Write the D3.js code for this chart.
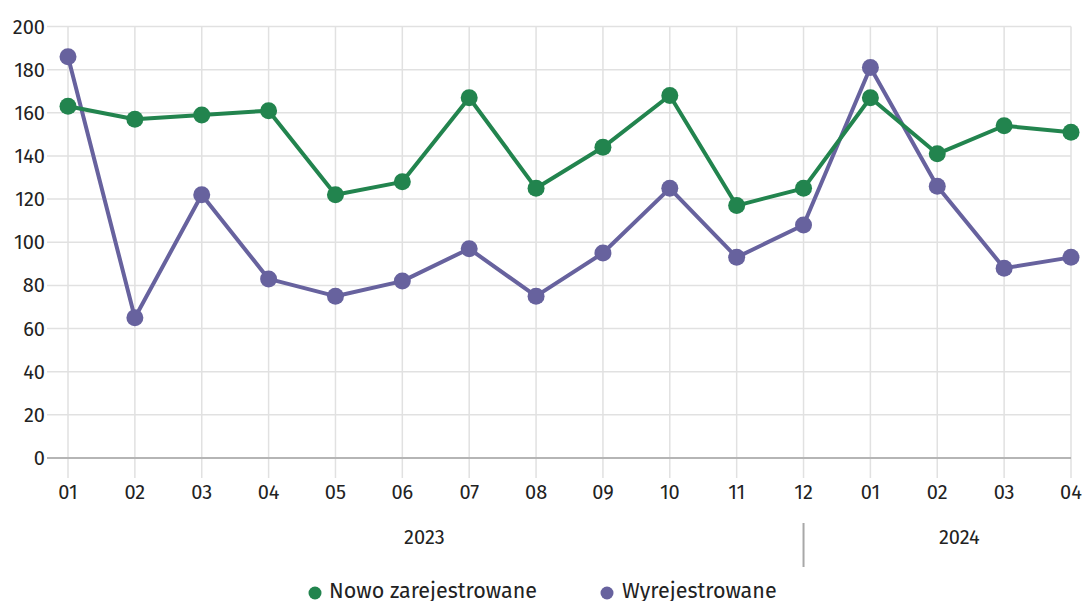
<!DOCTYPE html>
<html><head><meta charset="utf-8">
<script src="https://cdn.jsdelivr.net/npm/d3@7"></script>
<style>body{margin:0;background:#fff}svg{display:block;font-family:"Fira Sans","Noto Sans",sans-serif}</style>
</head><body><svg id="c" width="1082" height="601"></svg>
<script>
const months = ["01","02","03","04","05","06","07","08","09","10","11","12","01","02","03","04"];
const years = [{label:"2023", from:0, to:11},{label:"2024", from:12, to:15}];
const nowo = [163,157,159,161,122,128,167,125,144,168,117,125,167,141,154,151];
const wyrej = [186,65,122,83,75,82,97,75,95,125,93,108,181,126,88,93];
const yTicks = [0,20,40,60,80,100,120,140,160,180,200];
const seriesNames = ["Nowo zarejestrowane","Wyrejestrowane"];
const colors = ["#22844e","#67629e"];

const svg = d3.select("#c");
const L = 68, R = 1071, T = 26.5, B = 458;
const x = d3.scaleLinear().domain([0, months.length-1]).range([L, R]);
const y = d3.scaleLinear().domain([0, 200]).range([B, T]);

// horizontal grid
svg.append("g").selectAll("line").data(yTicks.filter(d=>d>0)).join("line")
  .attr("x1", 47).attr("x2", R).attr("y1", d=>y(d)).attr("y2", d=>y(d))
  .attr("stroke", "#e1e1e1").attr("stroke-width", 1.5);
// vertical grid
svg.append("g").selectAll("line").data(months.map((m,i)=>i)).join("line")
  .attr("x1", d=>x(d)).attr("x2", d=>x(d)).attr("y1", T).attr("y2", 478)
  .attr("stroke", "#e1e1e1").attr("stroke-width", 1.5);
// baseline
svg.append("line").attr("x1", 47).attr("x2", R).attr("y1", y(0)).attr("y2", y(0))
  .attr("stroke", "#b5b5b5").attr("stroke-width", 2);

// y labels
svg.append("g").selectAll("text").data(yTicks).join("text")
  .attr("x", 45).attr("y", d=>y(d)).attr("dy", "0.35em").attr("text-anchor", "end")
  .attr("font-size", 20).attr("fill", "#222").text(d=>d);
// x labels
svg.append("g").selectAll("text").data(months).join("text")
  .attr("x", (d,i)=>x(i)).attr("y", 492).attr("dy", "0.35em").attr("text-anchor", "middle")
  .attr("font-size", 20).attr("fill", "#222").text(d=>d);

// year labels and separator
svg.append("g").selectAll("text").data(years).join("text")
  .attr("x", d=>x((d.from+d.to)/2 - 0.17))
  .attr("y", 537).attr("dy", "0.35em").attr("text-anchor", "middle")
  .attr("font-size", 20).attr("fill", "#222").text(d=>d.label);
svg.append("line").attr("x1", x(years[0].to)).attr("x2", x(years[0].to))
  .attr("y1", 523).attr("y2", 567).attr("stroke", "#a8a8a8").attr("stroke-width", 2);

// lines and points
const series = [nowo, wyrej];
const line = d3.line().x((d,i)=>x(i)).y(d=>y(d));
[1,0].forEach(k=>{
  const g = svg.append("g");
  g.append("path").datum(series[k]).attr("d", line).attr("fill","none")
    .attr("stroke", colors[k]).attr("stroke-width", 4).attr("stroke-linejoin","round");
  g.selectAll("circle").data(series[k]).join("circle")
    .attr("cx", (d,i)=>x(i)).attr("cy", d=>y(d)).attr("r", 8.5).attr("fill", colors[k]);
});

// legend
const leg = [{x:315, tx:329},{x:607, tx:622}];
seriesNames.forEach((n,k)=>{
  svg.append("circle").attr("cx", leg[k].x).attr("cy", 593).attr("r", 6.5).attr("fill", colors[k]);
  svg.append("text").attr("x", leg[k].tx).attr("y", 598)
    .attr("font-size", 21.5).attr("fill", "#222").text(n);
});
</script></body></html>
